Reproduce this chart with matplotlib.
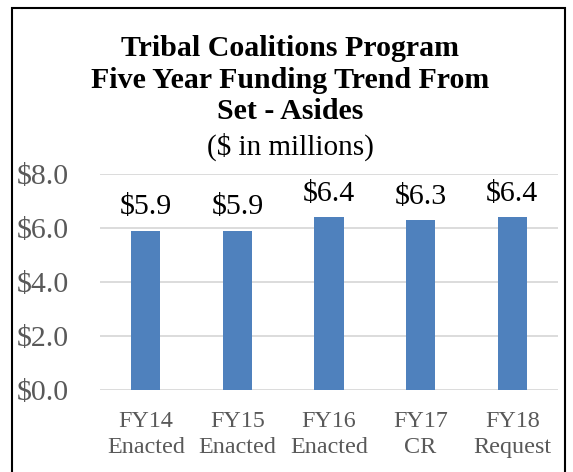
import matplotlib.pyplot as plt
from matplotlib.patches import Rectangle

categories = ["FY14\nEnacted", "FY15\nEnacted", "FY16\nEnacted", "FY17\nCR", "FY18\nRequest"]
values = [5.9, 5.9, 6.4, 6.3, 6.4]
yticks = [0, 2, 4, 6, 8]

plt.rcParams['font.family'] = ['Liberation Serif', 'DejaVu Serif']

fig = plt.figure(figsize=(5.73, 4.72), dpi=100)
ax = fig.add_axes([100 / 573, 1 - 390 / 472, 458 / 573, 216 / 472])

x = range(len(values))
ax.bar(x, values, width=0.32, color='#4f81bd', zorder=3)
for i, v in zip(x, values):
    ax.text(i, v + 0.38, f"${v:.1f}", ha='center', va='bottom', fontsize=21.5, color='black')

ax.set_ylim(0, 8)
ax.set_xlim(-0.5, len(values) - 0.5)
ax.set_yticks(yticks)
ax.set_yticklabels([f"${t:.1f}" for t in yticks], fontsize=21.5, color='#595959')
ax.set_xticks(list(x))
ax.set_xticklabels(categories, fontsize=17.4, color='#595959', linespacing=1.3)
ax.tick_params(length=0)
ax.tick_params(axis='y', pad=60)
ax.tick_params(axis='x', pad=15)
for lab in ax.get_yticklabels():
    lab.set_horizontalalignment('left')
ax.grid(axis='y', color='#d9d9d9', linewidth=1.3, zorder=0)
for s in ax.spines.values():
    s.set_visible(False)

fig.text(0.506, 1 - 80 / 472, "Tribal Coalitions Program\nFive Year Funding Trend From\nSet - Asides",
         ha='center', va='center', fontsize=21.5, fontweight='bold', linespacing=1.2)
fig.text(0.506, 1 - 147 / 472, "($ in millions)", ha='center', va='center', fontsize=21)

fig.patches.append(Rectangle((12 / 573, -0.02), 553 / 573, 1 - 8 / 472 + 0.02,
                             transform=fig.transFigure, fill=False, edgecolor='black', linewidth=1.5))

fig.savefig("out.png", dpi=100)
